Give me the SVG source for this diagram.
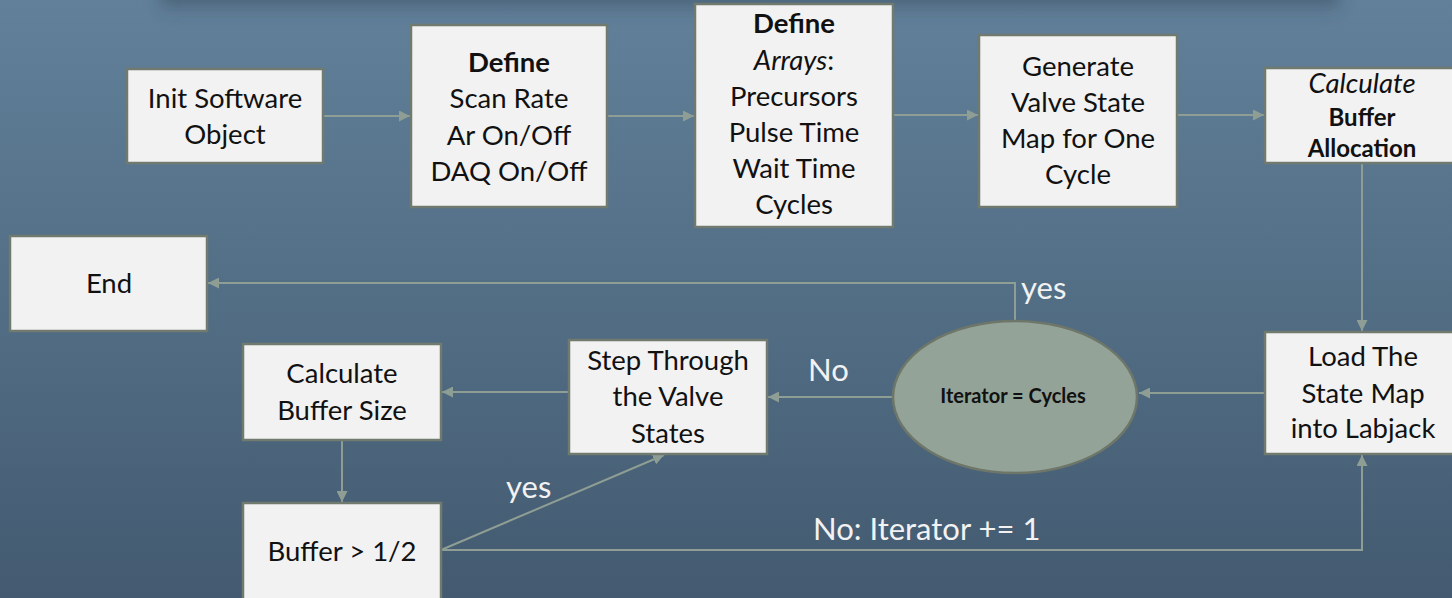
<svg xmlns="http://www.w3.org/2000/svg" width="1452" height="598" viewBox="0 0 1452 598">
<defs>
<linearGradient id="bg" x1="0" y1="0" x2="0" y2="1">
<stop offset="0" stop-color="#62809a"/>
<stop offset="0.5" stop-color="#526e85"/>
<stop offset="1" stop-color="#435a70"/>
</linearGradient>
<linearGradient id="shade" x1="0" y1="0" x2="0" y2="1">
<stop offset="0" stop-color="#2f4252" stop-opacity="0.75"/>
<stop offset="1" stop-color="#2f4252" stop-opacity="0"/>
</linearGradient>
<filter id="blur" x="-20%" y="-200%" width="140%" height="500%"><feGaussianBlur stdDeviation="8"/></filter>
<marker id="arr" viewBox="0 0 10 10" refX="10" refY="5" markerWidth="11" markerHeight="11" markerUnits="userSpaceOnUse" orient="auto">
<path d="M0,0 L10,5 L0,10 z" fill="#8e9e94"/>
</marker>
<style>
.box{fill:#f2f2f2;stroke:#717a6e;stroke-width:2.5}
.ell{fill:#93a397;stroke:#6d7669;stroke-width:2.5}
.t{font-family:Lato,"Open Sans",sans-serif;font-size:27.5px;fill:#111;text-anchor:middle}
.b{font-weight:bold}
.i{font-style:italic}
.s{font-size:24px;font-weight:bold}
.lbl{font-family:Lato,"Open Sans",sans-serif;font-size:31px;fill:#f2f2f2}
.c{fill:none;stroke:#8e9e94;stroke-width:2}
</style>
</defs>
<rect width="1452" height="598" fill="url(#bg)"/>
<rect x="160" y="-16" width="1180" height="32" fill="url(#shade)" filter="url(#blur)"/>

<g id="connectors">
<line class="c" x1="323" y1="116" x2="410" y2="116" marker-end="url(#arr)"/>
<line class="c" x1="607" y1="116" x2="694" y2="116" marker-end="url(#arr)"/>
<line class="c" x1="893" y1="115" x2="978" y2="115" marker-end="url(#arr)"/>
<line class="c" x1="1177" y1="115" x2="1264" y2="115" marker-end="url(#arr)"/>
<line class="c" x1="1362" y1="163" x2="1362" y2="331" marker-end="url(#arr)"/>
<line class="c" x1="1265" y1="393" x2="1139" y2="393" marker-end="url(#arr)"/>
<line class="c" x1="893" y1="397" x2="768" y2="397" marker-end="url(#arr)"/>
<line class="c" x1="569" y1="392" x2="442" y2="392" marker-end="url(#arr)"/>
<polyline class="c" points="1015,321 1015,283 208,283" marker-end="url(#arr)"/>
<line class="c" x1="342" y1="440" x2="342" y2="502" marker-end="url(#arr)"/>
<line class="c" x1="441" y1="550" x2="664" y2="455" marker-end="url(#arr)"/>
<polyline class="c" points="441,550 1362,550 1362,455" marker-end="url(#arr)"/>
<text class="lbl" x="1021" y="299">yes</text>
<text class="lbl" x="808" y="381">No</text>
<text class="lbl" x="506" y="498">yes</text>
<text class="lbl" x="813" y="540">No: Iterator += 1</text>
</g>

<g id="n-init">
<rect class="box" x="127" y="69" width="196" height="94"/>
<text class="t" x="225" y="108">Init Software</text>
<text class="t" x="225" y="144">Object</text>
</g>
<g id="n-define1">
<rect class="box" x="411" y="25" width="196" height="182"/>
<text class="t b" x="509" y="72">Define</text>
<text class="t" x="509" y="108">Scan Rate</text>
<text class="t" x="509" y="145">Ar On/Off</text>
<text class="t" x="509" y="181">DAQ On/Off</text>
</g>
<g id="n-define2">
<rect class="box" x="695" y="4" width="198" height="223"/>
<text class="t b" x="794" y="33">Define</text>
<text class="t" x="794" y="70"><tspan class="i">Arrays</tspan>:</text>
<text class="t" x="794" y="106">Precursors</text>
<text class="t" x="794" y="142">Pulse Time</text>
<text class="t" x="794" y="178">Wait Time</text>
<text class="t" x="794" y="214">Cycles</text>
</g>
<g id="n-generate">
<rect class="box" x="979" y="35" width="198" height="172"/>
<text class="t" x="1078" y="76">Generate</text>
<text class="t" x="1078" y="112">Valve State</text>
<text class="t" x="1078" y="148">Map for One</text>
<text class="t" x="1078" y="184">Cycle</text>
</g>
<g id="n-alloc">
<rect class="box" x="1265" y="68" width="196" height="95"/>
<text class="t i" x="1362" y="93">Calculate</text>
<text class="t s" x="1362" y="126">Buffer</text>
<text class="t s" x="1362" y="157">Allocation</text>
</g>
<g id="n-end">
<rect class="box" x="10" y="236" width="197" height="95"/>
<text class="t" x="109" y="293">End</text>
</g>
<g id="n-calcsize">
<rect class="box" x="243" y="344" width="198" height="96"/>
<text class="t" x="342" y="383">Calculate</text>
<text class="t" x="342" y="420">Buffer Size</text>
</g>
<g id="n-buffer">
<rect class="box" x="243" y="503" width="198" height="97"/>
<text class="t" x="342" y="561">Buffer &gt; 1/2</text>
</g>
<g id="n-step">
<rect class="box" x="569" y="340" width="198" height="114"/>
<text class="t" x="668" y="370">Step Through</text>
<text class="t" x="668" y="406">the Valve</text>
<text class="t" x="668" y="443">States</text>
</g>
<g id="n-iter">
<ellipse class="ell" cx="1015" cy="397" rx="122" ry="76"/>
<text class="t s" x="1013" y="403" style="font-size:20px">Iterator = Cycles</text>
</g>
<g id="n-load">
<rect class="box" x="1265" y="332" width="196" height="122"/>
<text class="t" x="1363" y="366">Load The</text>
<text class="t" x="1363" y="403">State Map</text>
<text class="t" x="1363" y="438">into Labjack</text>
</g>
</svg>
